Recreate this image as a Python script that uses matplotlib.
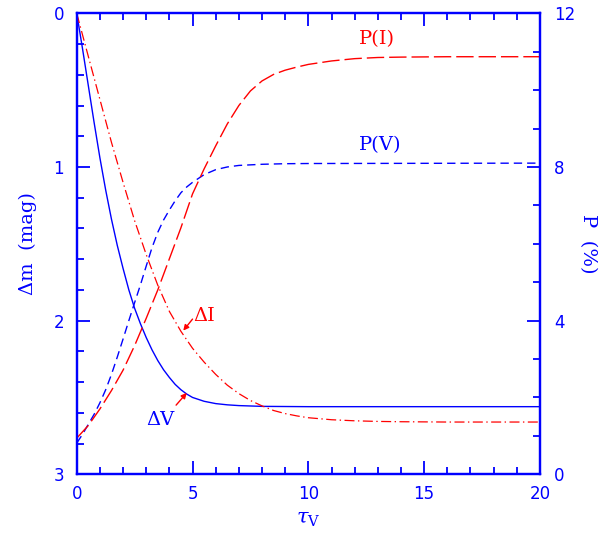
import matplotlib
matplotlib.use("Agg")
import matplotlib.pyplot as plt
from matplotlib.ticker import MultipleLocator

plt.rcParams['font.family'] = 'DejaVu Sans'
plt.rcParams['mathtext.fontset'] = 'dejavuserif'
plt.rcParams['lines.scale_dashes'] = False

BLUE = '#0000ff'
RED = '#ff0000'

# [1] values
tau_dv = [0, 0.25, 0.5, 0.75, 1.0, 1.25, 1.5, 1.75, 2.0, 2.25, 2.5, 2.75, 3.0, 3.25, 3.5,
          3.75, 4.0, 4.25, 4.5, 4.75, 5.0, 5.5, 6.0, 6.5, 7.0, 8.0, 10, 20]
dm_v = [0, 0.23, 0.47, 0.71, 0.94, 1.15, 1.34, 1.51, 1.66, 1.80, 1.92, 2.02, 2.11, 2.19, 2.26,
        2.32, 2.37, 2.415, 2.45, 2.478, 2.50, 2.525, 2.54, 2.548, 2.553, 2.558, 2.56, 2.56]

tau_di = [0, 1.0, 1.5, 2.0, 2.5, 3.0, 3.5, 4.0, 4.5, 5.0, 5.5, 6.0, 6.5, 7.0, 7.5, 8.0,
          8.5, 9.0, 9.5, 10, 11, 12, 13, 14, 16, 20]
dm_i = [0, 0.56, 0.84, 1.10, 1.35, 1.57, 1.77, 1.94, 2.07, 2.18, 2.27, 2.35, 2.42, 2.475, 2.52, 2.555,
        2.585, 2.605, 2.62, 2.632, 2.645, 2.652, 2.656, 2.658, 2.66, 2.66]

tau_pv = [0, 0.25, 0.5, 0.75, 1.0, 1.25, 1.5, 1.75, 2.0, 2.25, 2.5, 2.75, 3.0, 3.25, 3.5,
          3.75, 4.0, 4.25, 4.5, 4.75, 5.0, 5.5, 6.0, 6.5, 7.0, 8.0, 9.0, 10, 20]
p_v = [0.81, 1.04, 1.30, 1.56, 1.86, 2.20, 2.60, 3.05, 3.52, 4.00, 4.47, 4.93, 5.42, 5.90, 6.30,
       6.62, 6.88, 7.12, 7.33, 7.48, 7.60, 7.80, 7.93, 8.00, 8.04, 8.07, 8.085, 8.09, 8.10]

tau_pi = [0, 0.5, 1.0, 1.5, 2.0, 2.5, 3.0, 3.5, 4.0, 4.5, 5.0, 5.5, 6.0, 6.5, 7.0, 7.5,
          8.0, 8.5, 9.0, 9.5, 10, 11, 12, 13, 14, 16, 20]
p_i = [0.94, 1.27, 1.70, 2.18, 2.71, 3.35, 4.06, 4.80, 5.61, 6.42, 7.30, 7.95, 8.55, 9.12, 9.60, 9.98,
       10.24, 10.41, 10.52, 10.60, 10.67, 10.76, 10.82, 10.85, 10.86, 10.87, 10.87]

xticks = [0, 5, 10, 15, 20]
mag_ticks = [0, 1, 2, 3]
p_ticks = [0, 4, 8, 12]

# [2] figure
fig = plt.figure(figsize=(6.07, 5.37), dpi=100)
ax = fig.add_axes([0.1264, 0.1168, 0.7632, 0.8584])
ax2 = ax.twinx()

ax.plot(tau_dv, dm_v, color=BLUE, lw=1.0)
ax.plot(tau_di, dm_i, color=RED, lw=0.9, dashes=(7.2, 2.5, 1.0, 2.5))
ax2.plot(tau_pv, p_v, color=BLUE, lw=1.0, dashes=(6, 3.6))
ax2.plot(tau_pi, p_i, color=RED, lw=1.0, dashes=(12.5, 3.6))

ax.set_xlim(0, 20)
ax.set_ylim(3, 0)
ax2.set_ylim(0, 12)
ax.set_xticks(xticks)
ax.set_yticks(mag_ticks)
ax2.set_yticks(p_ticks)
ax.xaxis.set_minor_locator(MultipleLocator(1))
ax.yaxis.set_minor_locator(MultipleLocator(0.2))
ax2.yaxis.set_minor_locator(MultipleLocator(1))

for a in (ax, ax2):
    for s in a.spines.values():
        s.set_color(BLUE)
        s.set_linewidth(1.6)
ax.tick_params(which='both', direction='in', colors=BLUE, width=1.3, top=True, labelsize=12)
ax.tick_params(which='major', length=9.5)
ax.tick_params(which='minor', length=5)
ax.tick_params(axis='x', pad=8)
ax.tick_params(axis='y', pad=9, left=True, right=False)
ax2.tick_params(which='both', direction='in', colors=BLUE, width=1.3, labelsize=12, pad=10)
ax2.tick_params(which='major', length=9.5)
ax2.tick_params(which='minor', length=5)

ax.set_xlabel(r'$\tau_{\rm V}$', color=BLUE, fontsize=15, labelpad=4)
ax.set_ylabel('Δm  (mag)', color=BLUE, fontsize=14, family='DejaVu Serif', labelpad=12)
ax2.set_ylabel('P  (%)', color=BLUE, fontsize=14, family='DejaVu Serif', rotation=270, labelpad=16)

# [3] labels and arrows
ax.text(12.96, 0.17, 'P(I)', color=RED, fontsize=14, family='DejaVu Serif', ha='center', va='center')
ax2.text(13.1, 8.57, 'P(V)', color=BLUE, fontsize=14, family='DejaVu Serif', ha='center', va='center')
ax.text(5.5, 1.97, 'ΔI', color=RED, fontsize=14, family='DejaVu Serif', ha='center', va='center')
ax.text(3.6, 2.65, 'ΔV', color=BLUE, fontsize=14, family='DejaVu Serif', ha='center', va='center')
ax.annotate('', xy=(4.6, 2.065), xytext=(5.0, 1.99),
            arrowprops=dict(arrowstyle='-|>', color=RED, lw=1.0, mutation_scale=8, shrinkA=0, shrinkB=0))
ax.annotate('', xy=(4.75, 2.47), xytext=(4.29, 2.55),
            arrowprops=dict(arrowstyle='-|>', color=RED, lw=1.0, mutation_scale=8, shrinkA=0, shrinkB=0))

fig.savefig('out.png', dpi=100)
